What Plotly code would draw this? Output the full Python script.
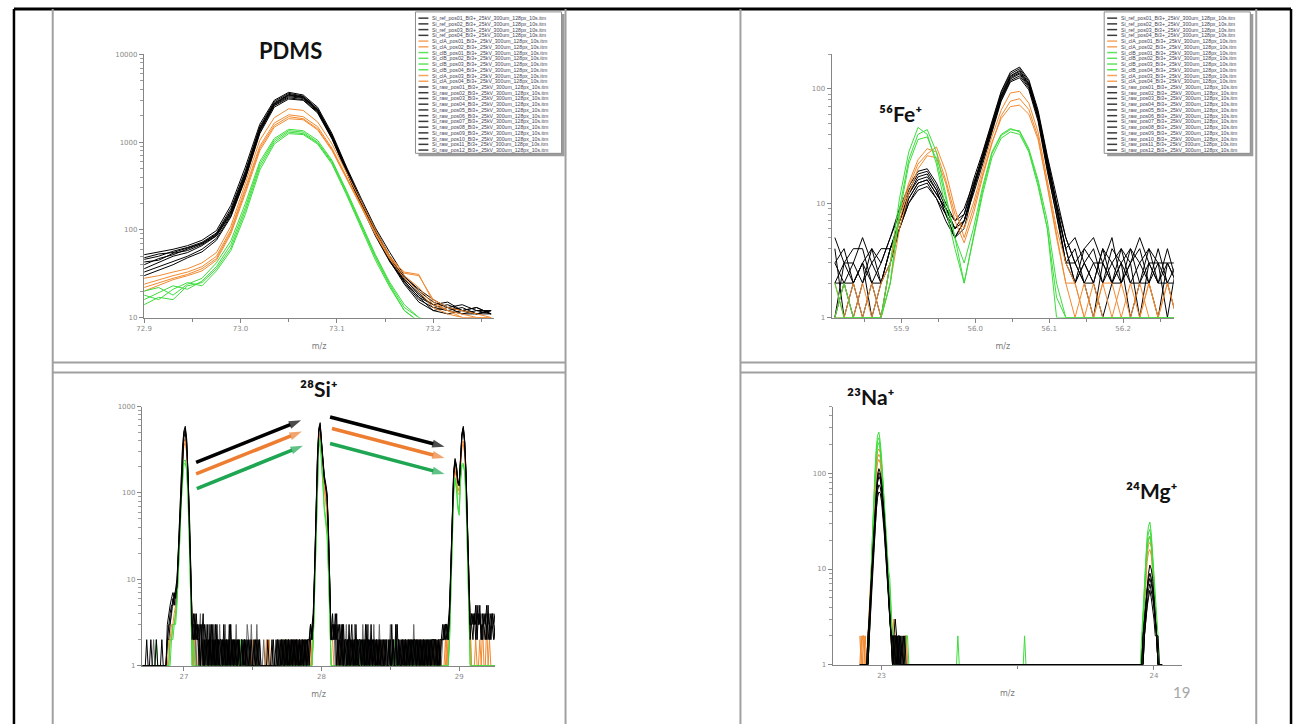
import math
import plotly.graph_objects as go

W, H = 1297, 728

# ============================ DATA ============================
# ---- Panel 1: PDMS (m/z 72.9 - 73.26) ----
PDMS_MZ = [72.900, 72.915, 72.930, 72.945, 72.960, 72.975, 72.990, 73.005, 73.020, 73.035,
           73.050, 73.065, 73.080, 73.095, 73.110, 73.125, 73.140, 73.155, 73.170, 73.185,
           73.200, 73.215, 73.230, 73.245, 73.260]
PDMS_BLACK = [
    [52, 56, 60, 66, 76, 98, 190, 520, 1600, 3000, 3700, 3450, 2500, 1250, 520, 230, 105, 55, 30, 20, 15, 13, 14, 12, 12],
    [46, 50, 57, 63, 72, 92, 175, 470, 1500, 2900, 3600, 3350, 2400, 1200, 500, 215, 100, 50, 28, 18, 14, 15, 12, 13, 11],
    [40, 47, 52, 60, 70, 90, 165, 450, 1450, 2800, 3500, 3300, 2350, 1180, 490, 210, 95, 48, 27, 19, 13, 12, 13, 11, 12],
    [36, 42, 50, 55, 66, 85, 155, 420, 1380, 2700, 3400, 3200, 2300, 1150, 480, 205, 92, 47, 26, 17, 14, 12, 11, 12, 11],
    [48, 53, 55, 62, 70, 88, 160, 430, 1400, 2750, 3450, 3250, 2320, 1160, 485, 200, 90, 46, 29, 21, 16, 13, 12, 11, 12],
    [43, 45, 54, 58, 68, 86, 150, 400, 1350, 2650, 3300, 3150, 2250, 1120, 470, 200, 90, 45, 25, 16, 13, 14, 12, 13, 11],
    [33, 38, 44, 50, 60, 80, 145, 390, 1300, 2600, 3200, 3050, 2200, 1100, 460, 195, 88, 44, 24, 15, 12, 13, 11, 11, 12],
    [30, 35, 40, 48, 56, 76, 140, 380, 1250, 2500, 3100, 3000, 2150, 1080, 450, 190, 85, 43, 26, 17, 12, 11, 12, 11, 11],
]
PDMS_ORANGE = [
    [28, 30, 33, 36, 42, 55, 110, 330, 1050, 1900, 2400, 2300, 1700, 950, 450, 210, 100, 50, 32, 30, 16, 13, 12, 11, 10],
    [24, 27, 30, 33, 38, 50, 100, 300, 900, 1650, 2050, 1950, 1500, 850, 400, 190, 92, 48, 30, 22, 14, 12, 11, 10, 10],
    [22, 25, 28, 31, 36, 47, 95, 280, 850, 1550, 1950, 1850, 1420, 820, 390, 185, 90, 47, 33, 31, 15, 12, 10, 10, 10],
    [20, 23, 27, 30, 34, 45, 90, 260, 800, 1480, 1850, 1800, 1380, 800, 380, 180, 88, 46, 28, 20, 13, 11, 10, 10, 10],
]
PDMS_GREEN = [
    [20, 22, 18, 24, 28, 42, 75, 200, 600, 1100, 1400, 1350, 1050, 620, 280, 120, 52, 25, 14, 10, 9, 9, 9, 9, 9],
    [16, 19, 23, 21, 26, 38, 68, 180, 560, 1050, 1350, 1300, 1000, 600, 270, 115, 50, 24, 13, 10, 8, 8, 8, 8, 8],
    [14, 17, 16, 23, 25, 36, 62, 165, 520, 1000, 1300, 1250, 980, 580, 260, 110, 48, 23, 12, 9, 8, 8, 8, 8, 8],
    [18, 16, 21, 25, 23, 34, 58, 150, 480, 950, 1250, 1220, 950, 560, 250, 105, 45, 22, 12, 9, 8, 8, 8, 8, 8],
]

# ---- Panel 2: 56Fe+ (m/z 55.81 - 56.27) ----
FE_MZ = [55.8100, 55.8225, 55.8350, 55.8475, 55.8600, 55.8725, 55.8850, 55.8975, 55.9100, 55.9225,
         55.9350, 55.9475, 55.9600, 55.9725, 55.9850, 55.9975, 56.0100, 56.0225, 56.0350, 56.0475,
         56.0600, 56.0725, 56.0850, 56.0975, 56.1100, 56.1225, 56.1350, 56.1475, 56.1600, 56.1725,
         56.1850, 56.1975, 56.2100, 56.2225, 56.2350, 56.2475, 56.2600, 56.2725]
FE_BLACK = [
    [5, 3, 4, 4, 2, 3, 5, 8, 13, 18, 19, 14, 9, 6, 8, 16, 28, 52, 95, 140, 155, 120, 65, 26, 11, 5, 3, 4, 5, 3, 2, 4, 3, 5, 3, 2, 3, 3],
    [3, 4, 2, 3, 4, 2, 4, 7, 12, 16, 17, 13, 8, 5, 7, 14, 26, 48, 88, 130, 145, 112, 60, 24, 10, 4, 5, 3, 2, 4, 3, 2, 4, 3, 2, 4, 2, 2],
    [2, 2, 3, 5, 3, 4, 4, 6, 11, 15, 16, 12, 9, 7, 9, 15, 25, 46, 85, 125, 138, 108, 58, 22, 9, 4, 2, 3, 4, 2, 4, 3, 2, 2, 4, 3, 3, 2],
    [4, 1, 2, 3, 2, 2, 4, 7, 12, 17, 18, 13, 8, 5, 6, 13, 24, 45, 82, 122, 135, 105, 56, 21, 9, 3, 4, 2, 3, 3, 5, 2, 3, 4, 2, 3, 1, 3],
    [1, 3, 3, 2, 4, 3, 5, 9, 14, 19, 20, 15, 10, 7, 8, 14, 27, 50, 92, 135, 150, 116, 62, 25, 10, 5, 3, 2, 2, 4, 2, 3, 4, 2, 3, 2, 4, 2],
    [3, 2, 1, 2, 3, 2, 3, 6, 10, 14, 15, 11, 7, 5, 7, 13, 23, 44, 80, 118, 130, 102, 55, 20, 8, 3, 2, 4, 3, 2, 3, 4, 2, 3, 4, 2, 2, 1],
    [2, 3, 2, 1, 2, 1, 3, 6, 10, 13, 14, 11, 8, 6, 7, 12, 22, 42, 78, 115, 125, 98, 52, 19, 8, 3, 3, 2, 1, 3, 2, 2, 3, 1, 3, 3, 2, 3],
    [1, 2, 2, 3, 1, 2, 4, 7, 11, 15, 16, 12, 9, 6, 7, 14, 25, 47, 86, 128, 142, 110, 59, 23, 9, 4, 2, 3, 2, 1, 2, 3, 1, 2, 2, 1, 3, 2],
]
FE_ORANGE = [
    [1, 2, 1, 1, 2, 1, 3, 8, 15, 24, 30, 28, 16, 8, 6, 10, 20, 38, 65, 92, 95, 75, 42, 16, 6, 3, 2, 1, 2, 1, 1, 2, 1, 2, 1, 1, 2, 1],
    [2, 1, 1, 2, 1, 1, 2, 6, 12, 20, 26, 25, 15, 7, 4.5, 8, 17, 33, 58, 78, 82, 66, 38, 14, 5, 2, 1, 2, 1, 2, 1, 1, 2, 1, 2, 1, 1, 1],
    [1, 1, 2, 1, 1, 2, 3, 7, 14, 22, 27, 31, 19, 9, 5, 9, 18, 34, 55, 70, 72, 60, 36, 14, 5, 2, 2, 1, 1, 2, 2, 1, 1, 1, 2, 1, 2, 1],
]
FE_GREEN = [
    [2, 1, 1, 1, 1, 1, 3, 11, 28, 46, 40, 22, 9, 4, 2, 5, 13, 27, 39, 44, 43, 30, 16, 7, 2, 1, 1, 1, 1, 1, 1, 1, 1, 1, 1, 1, 1, 1],
    [1, 1, 1, 1, 1, 1, 2, 9, 24, 40, 44, 28, 12, 5, 3, 6, 14, 28, 40, 45, 42, 29, 15, 6, 1.5, 1, 1, 1, 1, 1, 1, 1, 1, 1, 1, 1, 1, 1],
    [1, 2, 1, 1, 1, 1, 2, 8, 22, 36, 38, 24, 11, 5, 2, 5, 12, 25, 37, 42, 40, 28, 14, 6, 1, 1, 1, 1, 1, 1, 1, 1, 1, 1, 1, 1, 1, 1],
]


# ---- Panel 3: 28Si+ (m/z 26.70 - 29.26, sampling step 0.01) ----
def counts(*chunks):
    """Low count values typed as digit strings (one digit per channel)."""
    return [int(c) for c in "".join(chunks)]


SI_MZ_START, SI_MZ_STEP, SI_N = 26.70, 0.01, 257
SI_MZ = [round(SI_MZ_START + SI_MZ_STEP * i, 2) for i in range(SI_N)]

SI_BLACK_1 = (counts("111211111111112111") + [3, 4, 5, 6, 7, 6, 8]
              + [10, 22, 65, 160, 340, 520, 590, 430, 190, 60, 14, 3]
              + counts("3242312132", "2131213121", "1212121312", "1212112121", "1121112111",
                       "1111211111", "1112121212", "1212121212", "1212123")
              + [4, 14, 70, 260, 560, 650, 400, 220, 160, 130, 100, 40, 8, 2]
              + counts("3242321312", "2131212121", "1212131212", "1212121121", "1213112121",
                       "2121212121", "2121212121", "2121221212", "22323")
              + [5, 16, 70, 180, 250, 210, 140, 130, 260, 490, 590, 400, 170, 50, 10, 3]
              + counts("343524332435234323"))
SI_BLACK_2 = (counts("111111211111111111") + [2, 3, 4, 5, 5, 7, 6]
              + [9, 20, 58, 145, 310, 480, 540, 390, 170, 52, 12, 3]
              + counts("2423132412", "1213121312", "2121213121", "2121121212", "1211211121",
                       "1111111211", "1211212121", "2121212121", "2121232")
              + [3, 12, 60, 230, 500, 600, 370, 200, 145, 115, 88, 34, 7, 2]
              + counts("2324132131", "1212121312", "2121312121", "2121212112", "1121211312",
                       "1212121212", "1212121212", "1212212122", "32332")
              + [4, 13, 60, 160, 220, 190, 130, 120, 230, 450, 550, 370, 150, 44, 9, 2]
              + counts("434253423342523432"))
SI_BLACK_3 = (counts("111111111121111111") + [2, 2, 3, 4, 6, 5, 7]
              + [8, 18, 50, 130, 280, 440, 500, 360, 155, 46, 11, 2]
              + counts("4232213121", "3121312121", "2131212121", "2112121211", "2111121211",
                       "1111111121", "2121211212", "1212121212", "1212232")
              + [4, 13, 65, 240, 520, 610, 380, 210, 150, 120, 92, 36, 7, 2]
              + counts("4231212312", "1212312121", "2121212131", "2121211212", "1211213121",
                       "1212121212", "2121212121", "2122121212", "23232")
              + [4, 14, 65, 170, 230, 200, 135, 125, 245, 470, 560, 380, 160, 46, 9, 3]
              + counts("324343524323432434"))
SI_GRAY_1 = (counts("111111112111111111") + [2, 3, 3, 4, 5, 6, 5]
             + [9, 21, 60, 150, 320, 500, 560, 410, 180, 55, 13, 3]
             + counts("2313241213", "1312131213", "1213121312", "1312121213", "2131213121",
                      "1211111111", "1211121212", "1212121212", "1212122")
             + [3, 13, 62, 245, 540, 620, 390, 210, 150, 122, 95, 37, 8, 2]
             + counts("2313213121", "3121213121", "2131213121", "3121312121", "2131213121",
                      "1212121213", "1212121212", "1212121221", "22332")
             + [4, 15, 66, 175, 240, 205, 138, 128, 250, 480, 570, 390, 165, 48, 10, 3]
             + counts("433425343234342343"))
SI_ORANGE_1 = (counts("111111111111111111") + [1, 2, 2, 3, 3, 4, 5]
               + [8, 16, 45, 120, 260, 390, 420, 320, 140, 42, 10, 2]
               + counts("1211111211", "1111211111", "1111112111", "1111111211", "1112111111",
                        "1111121111", "1111111211", "1111211111", "1112112")
               + [3, 10, 50, 190, 420, 500, 320, 175, 120, 95, 65, 25, 5, 2]
               + counts("2111121111", "1111111211", "1112111111", "1111111211", "1111211111",
                        "1121111111", "1111112111", "1111211111", "11212")
               + [3, 11, 50, 140, 200, 170, 115, 105, 205, 370, 400, 300, 130, 36, 7, 2]
               + counts("111211113111121111"))
SI_ORANGE_2 = (counts("111111111111111111") + [1, 1, 2, 2, 3, 3, 4]
               + [7, 14, 40, 105, 230, 350, 380, 290, 125, 38, 9, 2]
               + counts("1111211111", "1211111111", "1111111121", "1121111111", "1111111111",
                        "1112111111", "1111121111", "1121111112", "1111121")
               + [2, 9, 45, 170, 380, 450, 290, 150, 105, 80, 55, 20, 4, 1]
               + counts("1111211111", "1121111111", "1111111121", "1111211111", "1111111111",
                        "1111111211", "1121111111", "1111111121", "11121")
               + [3, 10, 45, 125, 180, 150, 100, 95, 185, 340, 370, 280, 120, 32, 6, 2]
               + counts("111111211113111111"))
SI_GREEN_1 = (counts("111111111121111111") + [1, 1, 2, 2, 3, 3, 4]
              + [6, 12, 32, 85, 170, 235, 240, 200, 95, 30, 7, 1]
              + counts("1111111111", "1111112111", "1111111111", "1111211111", "1111111111",
                       "1111111111", "1111111111", "1111121111", "1111111")
              + [2, 8, 40, 160, 360, 430, 260, 130, 70, 50, 38, 14, 3, 1]
              + counts("1111111111", "1111111111", "1112111111", "1111111111", "1111111111",
                       "1111112111", "1111111111", "1111111111", "11111")
              + [2, 8, 38, 105, 150, 120, 75, 60, 145, 215, 220, 180, 90, 26, 5, 1]
              + counts("111111111111111111"))
SI_GREEN_2 = (counts("111111111111111111") + [1, 1, 1, 2, 2, 3, 3]
              + [5, 10, 28, 75, 150, 215, 220, 185, 85, 26, 6, 1]
              + counts("2111111111", "1111111111", "1111111112", "1111111111", "1111111111",
                       "1111111111", "1111111121", "1111111111", "1111111")
              + [2, 7, 36, 150, 330, 400, 240, 120, 62, 44, 32, 12, 3, 1]
              + counts("1111111111", "1111111112", "1111111111", "1111111111", "1111121111",
                       "1111111111", "1111111111", "1211111111", "11111")
              + [2, 7, 33, 95, 140, 110, 65, 55, 135, 205, 210, 170, 80, 22, 5, 1]
              + counts("111111111111111111"))

# Arrows drawn on the Si panel (tail -> head, in m/z and counts)
SI_ARROW_TAIL_MZ = [27.089, 27.089, 27.094, 28.062, 28.076, 28.062]
SI_ARROW_TAIL_CT = [226, 166, 112, 755, 556, 374]
SI_ARROW_HEAD_MZ = [27.852, 27.857, 27.865, 28.894, 28.894, 28.894]
SI_ARROW_HEAD_CT = [692, 513, 352, 342, 254, 166]

# ---- Panel 4: 23Na+ / 24Mg+ ----
NA_MZ = [22.920, 22.925, 22.930, 22.935, 22.940, 22.945, 22.950, 22.955, 22.960, 22.965,
         22.970, 22.975, 22.980, 22.985, 22.990, 22.995, 23.000, 23.005, 23.010, 23.015,
         23.020, 23.025, 23.030, 23.035, 23.040, 23.045, 23.050, 23.055, 23.060, 23.065,
         23.070, 23.075, 23.080, 23.085, 23.090, 23.095, 23.100]
MG_MZ = [23.940, 23.945, 23.950, 23.955, 23.960, 23.965, 23.970, 23.975, 23.980, 23.985,
         23.990, 23.995, 24.000, 24.005, 24.010, 24.015, 24.020, 24.025, 24.030]
NA_BLACK = [
    [1, 1, 1, 1, 1, 1, 2, 4, 7, 11, 20, 38, 68, 98, 112, 102, 82, 56, 36, 21, 12, 6, 3, 2, 1, 2, 3, 2, 1, 2, 1, 2, 1, 1, 1, 1, 1],
    [1, 1, 1, 1, 1, 1, 1, 3, 6, 10, 18, 34, 62, 90, 102, 95, 75, 50, 32, 19, 11, 5, 3, 2, 2, 1, 2, 1, 2, 2, 1, 1, 2, 1, 1, 1, 1],
    [1, 1, 1, 1, 1, 1, 2, 3, 6, 9, 16, 30, 55, 80, 92, 86, 68, 46, 30, 17, 10, 5, 3, 2, 1, 2, 2, 2, 1, 1, 2, 1, 1, 2, 1, 1, 1],
    [1, 1, 1, 1, 1, 1, 1, 2, 5, 8, 14, 26, 46, 66, 76, 72, 58, 40, 26, 15, 9, 5, 3, 2, 2, 1, 1, 2, 1, 2, 1, 1, 1, 1, 1, 1, 1],
    [1, 1, 1, 1, 1, 1, 1, 2, 4, 7, 12, 22, 40, 56, 64, 62, 50, 35, 23, 14, 8, 4, 3, 2, 1, 2, 1, 1, 2, 1, 1, 1, 1, 1, 1, 1, 1],
]
MG_BLACK = [
    [1, 1, 1, 1, 2, 3, 5, 7, 9, 11, 10, 8, 5, 3, 2, 2, 1, 1, 1],
    [1, 1, 1, 1, 1, 2, 4, 6, 8, 9, 8, 6, 5, 3, 2, 1, 1, 1, 1],
    [1, 1, 1, 1, 2, 3, 4, 6, 7, 8, 7, 6, 4, 3, 2, 1, 1, 1, 1],
    [1, 1, 1, 1, 1, 2, 3, 5, 6, 7, 6, 5, 4, 3, 2, 1, 1, 1, 1],
    [1, 1, 1, 1, 1, 2, 3, 4, 5, 6, 5, 4, 3, 2, 2, 1, 1, 1, 1],
]
NA_GRAY = [1, 1, 1, 1, 1, 1, 2, 3, 6, 10, 17, 32, 58, 85, 96, 90, 72, 48, 31, 18, 11, 6, 3, 2, 2, 2, 1, 2, 1, 1, 1, 1, 1, 1, 1, 1, 1]
MG_GRAY = [1, 1, 1, 1, 2, 3, 4, 6, 8, 9, 8, 6, 4, 3, 2, 1, 1, 1, 1]
NA_ORANGE = [
    [2, 1, 2, 2, 1, 1, 2, 4, 8, 16, 34, 72, 125, 170, 180, 165, 122, 76, 42, 23, 13, 7, 4, 3, 2, 3, 2, 1, 1, 1, 1, 1, 1, 2, 2, 1, 1],
    [1, 2, 1, 1, 2, 1, 1, 3, 7, 14, 30, 62, 108, 148, 158, 146, 108, 68, 38, 21, 12, 6, 3, 2, 2, 1, 2, 1, 1, 1, 1, 1, 1, 1, 1, 1, 1],
    [1, 1, 1, 2, 1, 1, 2, 3, 6, 12, 26, 54, 95, 130, 140, 128, 96, 60, 34, 19, 10, 5, 3, 2, 1, 1, 1, 2, 1, 1, 1, 1, 1, 1, 2, 1, 1],
]
MG_ORANGE = [
    [1, 1, 1, 1, 3, 6, 11, 17, 21, 22, 19, 13, 8, 4, 2, 1, 1, 1, 1],
    [1, 1, 1, 1, 2, 5, 9, 14, 18, 19, 17, 12, 7, 4, 2, 1, 1, 1, 1],
    [1, 1, 1, 1, 2, 4, 8, 12, 15, 16, 14, 10, 6, 3, 2, 1, 1, 1, 1],
]
NA_GREEN = [
    [1, 1, 1, 1, 1, 1, 1, 3, 8, 20, 45, 100, 180, 250, 270, 215, 145, 85, 45, 24, 15, 10, 8, 4, 2, 1, 1, 1, 1, 1, 1, 1, 1, 1, 2, 2, 1],
    [1, 1, 1, 1, 1, 1, 1, 2, 7, 18, 40, 88, 160, 220, 235, 190, 130, 78, 42, 22, 13, 8, 6, 3, 2, 1, 1, 1, 1, 1, 1, 1, 1, 1, 1, 1, 1],
    [1, 1, 1, 1, 1, 1, 1, 2, 6, 16, 36, 80, 145, 195, 210, 172, 118, 72, 38, 20, 12, 7, 5, 3, 1, 1, 1, 1, 1, 1, 1, 1, 1, 1, 1, 1, 1],
]
MG_GREEN = [
    [1, 1, 1, 2, 4, 8, 14, 22, 28, 31, 24, 15, 9, 5, 3, 2, 1, 1, 1],
    [1, 1, 1, 1, 3, 7, 12, 19, 24, 26, 21, 13, 8, 4, 2, 1, 1, 1, 1],
    [1, 1, 1, 1, 2, 6, 10, 16, 20, 22, 18, 11, 7, 3, 2, 1, 1, 1, 1],
]
GAP_GREEN_MZ = [23.275, 23.280, 23.285, 23.520, 23.525, 23.530]
GAP_GREEN = [1, 2, 1, 1, 2, 1]

# ---- legend entries (file names in the two legend boxes) ----
LEGEND_LABELS = [
    "Si_ref_pos01_Bi3+_25kV_300um_128px_10s.itm",
    "Si_ref_pos02_Bi3+_25kV_300um_128px_10s.itm",
    "Si_ref_pos03_Bi3+_25kV_300um_128px_10s.itm",
    "Si_ref_pos04_Bi3+_25kV_300um_128px_10s.itm",
    "Si_clA_pos01_Bi3+_25kV_300um_128px_10s.itm",
    "Si_clA_pos02_Bi3+_25kV_300um_128px_10s.itm",
    "Si_clB_pos01_Bi3+_25kV_300um_128px_10s.itm",
    "Si_clB_pos02_Bi3+_25kV_300um_128px_10s.itm",
    "Si_clB_pos03_Bi3+_25kV_300um_128px_10s.itm",
    "Si_clB_pos04_Bi3+_25kV_300um_128px_10s.itm",
    "Si_clA_pos03_Bi3+_25kV_300um_128px_10s.itm",
    "Si_clA_pos04_Bi3+_25kV_300um_128px_10s.itm",
    "Si_raw_pos01_Bi3+_25kV_300um_128px_10s.itm",
    "Si_raw_pos02_Bi3+_25kV_300um_128px_10s.itm",
    "Si_raw_pos03_Bi3+_25kV_300um_128px_10s.itm",
    "Si_raw_pos04_Bi3+_25kV_300um_128px_10s.itm",
    "Si_raw_pos05_Bi3+_25kV_300um_128px_10s.itm",
    "Si_raw_pos06_Bi3+_25kV_300um_128px_10s.itm",
    "Si_raw_pos07_Bi3+_25kV_300um_128px_10s.itm",
    "Si_raw_pos08_Bi3+_25kV_300um_128px_10s.itm",
    "Si_raw_pos09_Bi3+_25kV_300um_128px_10s.itm",
    "Si_raw_pos10_Bi3+_25kV_300um_128px_10s.itm",
    "Si_raw_pos11_Bi3+_25kV_300um_128px_10s.itm",
    "Si_raw_pos12_Bi3+_25kV_300um_128px_10s.itm",
]
LEGEND_GROUP = ["k"] * 4 + ["o"] * 2 + ["g"] * 4 + ["o"] * 2 + ["k"] * 12

# ion labels: (text, centre in page pixels, font size)
ION_LABELS = [("PDMS", 284, 47, 22), ("⁵⁶Fe⁺", 898, 111, 21), ("²⁸Si⁺", 313, 389, 21),
              ("²³Na⁺", 868, 397, 21), ("²⁴Mg⁺", 1151, 492, 21)]

# ============================ STYLE ============================
BLACK = "#000000"
GRAY = "#6a6a6a"
ORANGE = "#f28a30"
GREEN = "#3ddc3d"
ARROW_COLORS = ["#000000", "#ed7d31", "#1ea652"] * 2
AXIS = "#858585"
FRAME = "#a0a0a0"
LEG_COLORS = {"k": "#3a3a3a", "o": "#f5a460", "g": "#5fe35f"}


def px(x):
    return x / W


def py(y):
    return 1 - y / H


fig = go.Figure()


def ax_names(n):
    return ("x", "y") if n == 1 else (f"x{n}", f"y{n}")


def add(xs, ys, color, n, width=1.0):
    xa, ya = ax_names(n)
    fig.add_trace(go.Scatter(
        x=xs, y=ys, mode="lines", line=dict(color=color, width=width),
        xaxis=xa, yaxis=ya, showlegend=False, hoverinfo="skip"))


# panel 1
for ys in PDMS_BLACK:
    add(PDMS_MZ, ys, BLACK, 1)
for ys in PDMS_ORANGE:
    add(PDMS_MZ, ys, ORANGE, 1)
for ys in PDMS_GREEN:
    add(PDMS_MZ, ys, GREEN, 1)
# panel 2
for ys in FE_BLACK:
    add(FE_MZ, ys, BLACK, 2)
for ys in FE_ORANGE:
    add(FE_MZ, ys, ORANGE, 2)
for ys in FE_GREEN:
    add(FE_MZ, ys, GREEN, 2)
# panel 3 (coloured spectra first, black on top)
for ys in (SI_ORANGE_1, SI_ORANGE_2):
    add(SI_MZ, ys, ORANGE, 3)
for ys in (SI_GREEN_1, SI_GREEN_2):
    add(SI_MZ, ys, GREEN, 3)
add(SI_MZ, SI_GRAY_1, GRAY, 3)
for ys in (SI_BLACK_1, SI_BLACK_2, SI_BLACK_3):
    add(SI_MZ, ys, BLACK, 3)
# arrows (line + arrow-head marker oriented along the segment)
for tx, tc, hx, hc, col in zip(SI_ARROW_TAIL_MZ, SI_ARROW_TAIL_CT, SI_ARROW_HEAD_MZ,
                               SI_ARROW_HEAD_CT, ARROW_COLORS):
    fig.add_trace(go.Scatter(
        x=[tx, hx], y=[tc, hc], mode="lines+markers", xaxis="x3", yaxis="y3",
        line=dict(color=col, width=3.6),
        marker=dict(symbol="arrow", size=[0, 13], color=col, angleref="previous",
                    line=dict(width=0)),
        showlegend=False, hoverinfo="skip"))
# panel 4
for a, b in zip(NA_ORANGE, MG_ORANGE):
    add(NA_MZ + MG_MZ, a + b, ORANGE, 4)
for i, (a, b) in enumerate(zip(NA_GREEN, MG_GREEN)):
    if i == 0:
        add(NA_MZ + GAP_GREEN_MZ + MG_MZ, a + GAP_GREEN + b, GREEN, 4)
    else:
        add(NA_MZ + MG_MZ, a + b, GREEN, 4)
add(NA_MZ + MG_MZ, NA_GRAY + MG_GRAY, GRAY, 4)
for a, b in zip(NA_BLACK, MG_BLACK):
    add(NA_MZ + MG_MZ, a + b, BLACK, 4)

TICKFONT = dict(family="DejaVu Sans", size=7, color="#8a8a8a")
TITLEFONT = dict(family="DejaVu Sans", size=8, color="#7a7a7a")


def xaxis(dom, rng, dtick, tick0, fmt, anchor):
    return dict(domain=[px(dom[0]), px(dom[1])], range=rng, anchor=anchor,
                tickmode="linear", dtick=dtick, tick0=tick0, tickformat=fmt,
                showline=True, linecolor=AXIS, linewidth=1.3, ticks="outside", ticklen=4,
                tickcolor=AXIS, tickwidth=1, showgrid=False, zeroline=False, tickfont=TICKFONT,
                minor=dict(ticks="outside", ticklen=3, dtick=dtick / 2, tick0=tick0,
                           tickcolor=AXIS, showgrid=False),
                title=dict(text="m/z", font=TITLEFONT, standoff=11))


def yaxis(dom, rng, anchor):
    return dict(domain=[py(dom[1]), py(dom[0])], range=rng, anchor=anchor, type="log",
                dtick=1, tickformat="d", exponentformat="none",
                showline=True, linecolor=AXIS, linewidth=1.3, ticks="outside", ticklen=4,
                tickcolor=AXIS, tickwidth=1, showgrid=False, zeroline=False, tickfont=TICKFONT,
                minor=dict(ticks="outside", ticklen=3, dtick="D1", tickcolor=AXIS,
                           tickwidth=0.8, showgrid=False))


layout = dict(
    width=W, height=H, margin=dict(l=0, r=0, t=0, b=0),
    paper_bgcolor="white", plot_bgcolor="white", showlegend=False,
    xaxis=xaxis((137, 489), [72.9, 73.263], 0.1, 72.9, ".1f", "y"),
    yaxis=yaxis((51, 317), [1, 4], "x"),
    xaxis2=xaxis((829, 1173), [55.806, 56.2686], 0.1, 55.9, ".1f", "y2"),
    yaxis2=yaxis((51, 317), [0, math.log10(200)], "x2"),
    xaxis3=xaxis((135, 490), [26.697, 29.26], 1, 27, "d", "y3"),
    yaxis3=yaxis((407, 669), [0, 3], "x3"),
    xaxis4=xaxis((830, 1181), [22.821, 24.102], 1, 23, "d", "y4"),
    yaxis4=yaxis((407, 668), [0, math.log10(500)], "x4"),
)

shapes = []
annotations = []


def seg(x0, y0, x1, y1, color, width):
    shapes.append(dict(type="line", xref="paper", yref="paper", x0=px(x0), y0=py(y0),
                       x1=px(x1), y1=py(y1), line=dict(color=color, width=width)))


# slide frame
seg(6, 5, 1291, 5, "#000000", 3)
seg(6, 5, 6, 728, "#000000", 2.5)
seg(1291, 5, 1291, 728, "#000000", 2.5)
for xv in (45, 561, 737, 1256):
    seg(xv, 5, xv, 728, FRAME, 2)
for yv in (362.5, 372.5):
    seg(45, yv, 561, yv, FRAME, 2)
    seg(737, yv, 1256, yv, FRAME, 2)

# legend boxes
for x0 in (410, 1103):
    x1 = x0 + 147
    shapes.append(dict(type="rect", xref="paper", yref="paper", x0=px(x0 + 3), x1=px(x1 + 3),
                       y0=py(154), y1=py(10), fillcolor="#9c9c9c", line=dict(width=0)))
    shapes.append(dict(type="rect", xref="paper", yref="paper", x0=px(x0), x1=px(x1),
                       y0=py(151), y1=py(8), fillcolor="white",
                       line=dict(color="#8c8c8c", width=1)))
    for k, (lab, grp) in enumerate(zip(LEGEND_LABELS, LEGEND_GROUP)):
        yy = 14.3 + 5.8 * k
        seg(x0 + 3, yy, x0 + 13, yy, LEG_COLORS[grp], 1.5)
        annotations.append(dict(xref="paper", yref="paper", x=px(x0 + 15), y=py(yy),
                                xanchor="left", yanchor="middle", showarrow=False, text=lab,
                                font=dict(family="Liberation Sans", size=5.2, color="#454555")))

# ion labels
for text, cx, cy, size in ION_LABELS:
    annotations.append(dict(xref="paper", yref="paper", x=px(cx), y=py(cy), text=text,
                            xanchor="center", yanchor="middle", showarrow=False,
                            font=dict(family="Lato, DejaVu Sans", size=size, color="#111111",
                                      weight="bold")))
# page number
annotations.append(dict(xref="paper", yref="paper", x=px(1181), y=py(696), text="19",
                        xanchor="center", yanchor="middle", showarrow=False,
                        font=dict(family="Lato", size=15, color="#a6a6a6")))

layout["shapes"] = shapes
layout["annotations"] = annotations
fig.update_layout(**layout)

fig.write_html("out.html", include_plotlyjs=True, full_html=True,
               config={"displayModeBar": False, "staticPlot": True},
               post_script="document.body.style.margin='0px';document.body.style.overflow='hidden';")
